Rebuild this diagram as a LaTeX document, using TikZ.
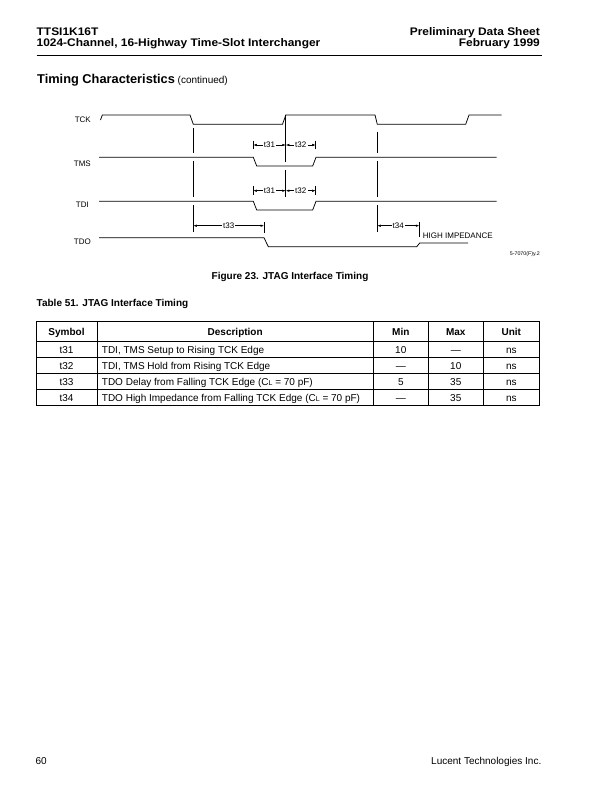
\documentclass[tikz,border=0pt]{standalone}
\usepackage{fontspec}
\usepackage{graphicx}
\setmainfont{Liberation Sans}
\usetikzlibrary{arrows.meta}
\newcommand{\hdrtext}[1]{\scalebox{1.085}[1]{#1}}
\begin{document}
\begin{tikzpicture}[x=1pt,y=-1pt,
  sig/.style={line width=0.75pt},
  vln/.style={line width=0.75pt},
  dimarrow/.style={line width=0.5pt,{Latex[length=3.5pt,width=2.4pt]}-{Latex[length=3.5pt,width=2.4pt]}},
  tickln/.style={line width=0.6pt},
  lbl/.style={inner sep=0pt,font=\fontsize{8}{9}\selectfont},
  dlbl/.style={fill=white,inner sep=1.2pt,font=\fontsize{8}{9}\selectfont},
  hdr/.style={inner sep=0pt,font=\fontsize{11}{12}\selectfont\bfseries},
  cell/.style={inner sep=0pt,font=\fontsize{10}{12}\selectfont},
  hcell/.style={inner sep=0pt,font=\fontsize{10}{12}\selectfont\bfseries},
  gridln/.style={line width=0.6pt}]
\useasboundingbox (0,0) rectangle (612,792);
\fill[white] (0,0) rectangle (612,792);

% ---------- page header ----------
\node[hdr,anchor=base west] (h1) at (36.5,35.8) {\hdrtext{TTSI1K16T}};
\node[hdr,anchor=base west] (h2) at (36.5,46.6) {\hdrtext{1024-Channel, 16-Highway Time-Slot Interchanger}};
\node[hdr,anchor=base east] (h3) at (540,35.8) {\hdrtext{Preliminary Data Sheet}};
\node[hdr,anchor=base east] (h4) at (540,46.6) {\hdrtext{February 1999}};
\draw[line width=0.8pt] (36.5,55) -- (542,55);

% ---------- section heading ----------
\node[inner sep=0pt,anchor=base west] (sec) at (37,83.3)
  {{\fontsize{12.8}{15}\selectfont\bfseries Timing Characteristics} {\fontsize{10}{12}\selectfont (continued)}};

% ---------- signal names ----------
\node[lbl,anchor=east] (ltck) at (91,119.3) {TCK};
\node[lbl,anchor=east] (ltms) at (91,164) {TMS};
\node[lbl,anchor=east] (ltdi) at (89,204.7) {TDI};
\node[lbl,anchor=east] (ltdo) at (91,242) {TDO};

% ---------- waveforms ----------
\draw[sig] (100.5,120) -- (102.3,115) -- (190,115) -- (193.3,124.3) -- (282.5,124.3)
  -- (285.8,115) -- (375,115) -- (377.3,124.3) -- (465.7,124.3) -- (469,115) -- (501.7,115);
\draw[sig] (99,157.3) -- (253.3,157.3) -- (256.7,166) -- (312.7,166) -- (316,157.3) -- (496.7,157.3);
\draw[sig] (99,201.3) -- (253.3,201.3) -- (256.7,210) -- (312.7,210) -- (316,201.3) -- (496.7,201.3);
\draw[sig] (99,237.7) -- (264,237.7) -- (268.3,246.7) -- (416.7,246.7) -- (419.7,243) -- (468,243);

% ---------- reference lines ----------
\draw[vln] (193.3,128) -- (193.3,153.3) (193.3,161.3) -- (193.3,197.3) (193.3,205.3) -- (193.3,232);
\draw[vln] (377.3,131.7) -- (377.3,153.3) (377.3,161.3) -- (377.3,197.3) (377.3,205.3) -- (377.3,231.7);
\draw[vln] (285.8,115) -- (285.8,162) (285.8,170) -- (285.8,196.7);

% ---------- t31 / t32 (TMS) ----------
\coordinate (a1) at (253.3,145);
\coordinate (a2) at (285.8,145);
\coordinate (a3) at (315.7,145);
\draw[tickln] (253.3,140.7) -- (253.3,149.3);
\draw[tickln] (315.7,140.7) -- (315.7,149.3);
\draw[dimarrow] (a1) -- node[dlbl] (t31a) {t31} (a2);
\draw[dimarrow] (a2) -- node[dlbl] (t32a) {t32} (a3);

% ---------- t31 / t32 (TDI) ----------
\coordinate (b1) at (253.3,190.7);
\coordinate (b2) at (285.8,190.7);
\coordinate (b3) at (315.7,190.7);
\draw[tickln] (253.3,186.4) -- (253.3,195);
\draw[tickln] (315.7,186.4) -- (315.7,195);
\draw[dimarrow] (b1) -- node[dlbl] (t31b) {t31} (b2);
\draw[dimarrow] (b2) -- node[dlbl] (t32b) {t32} (b3);

% ---------- t33 / t34 ----------
\coordinate (c1) at (193.3,225.7);
\coordinate (c2) at (264,225.7);
\draw[tickln] (264,222) -- (264,233.3);
\draw[dimarrow] (c1) -- node[dlbl] (t33) {t33} (c2);
\coordinate (d1) at (377.3,225.7);
\coordinate (d2) at (419.3,225.7);
\draw[tickln] (419.3,221.7) -- (419.3,236.7);
\draw[dimarrow] (d1) -- node[dlbl] (t34) {t34} (d2);

\node[lbl,anchor=west] (hiz) at (422.7,235.5) {HIGH IMPEDANCE};
\node[inner sep=0pt,anchor=east,font=\fontsize{5.3}{6}\selectfont] (fig) at (540,254) {5-7070(F)y.2};

% ---------- captions ----------
\node[inner sep=0pt,font=\fontsize{10}{12}\selectfont\bfseries] (cap) at (290,276.5) {Figure 23. JTAG Interface Timing};
\node[inner sep=0pt,anchor=base west,font=\fontsize{10}{12}\selectfont\bfseries] (tcap) at (36.5,306.5) {Table 51. JTAG Interface Timing};

% ---------- table ----------
\draw[gridln] (36,321.5) rectangle (539.3,405.5);
\foreach \yy in {341.5,357.5,373.5,389.5} \draw[gridln] (36,\yy) -- (539.3,\yy);
\foreach \xx in {97,373.3,428.3,483.3} \draw[gridln] (\xx,321.5) -- (\xx,405.5);

\node[hcell,anchor=base] (hs) at (66.5,335.1) {Symbol};
\node[hcell,anchor=base] (hd) at (235.2,335.1) {Description};
\node[hcell,anchor=base] (hmin) at (400.8,335.1) {Min};
\node[hcell,anchor=base] (hmax) at (455.8,335.1) {Max};
\node[hcell,anchor=base] (hu) at (511.3,335.1) {Unit};

\node[cell,anchor=base] (s1) at (66.5,353.1) {t31};
\node[cell,anchor=base west] (d1t) at (101.7,353.1) {TDI, TMS Setup to Rising TCK Edge};
\node[cell,anchor=base] (n1) at (400.8,353.1) {10};
\node[cell,anchor=base] (x1) at (455.8,353.1) {—};
\node[cell,anchor=base] (u1) at (511.3,353.1) {ns};

\node[cell,anchor=base] (s2) at (66.5,369.1) {t32};
\node[cell,anchor=base west] (d2t) at (101.7,369.1) {TDI, TMS Hold from Rising TCK Edge};
\node[cell,anchor=base] (n2) at (400.8,369.1) {—};
\node[cell,anchor=base] (x2) at (455.8,369.1) {10};
\node[cell,anchor=base] (u2) at (511.3,369.1) {ns};

\node[cell,anchor=base] (s3) at (66.5,385.1) {t33};
\node[cell,anchor=base west] (d3t) at (101.7,385.1) {TDO Delay from Falling TCK Edge (C\raisebox{-0.6pt}{\fontsize{7}{8}\selectfont L} = 70 pF)};
\node[cell,anchor=base] (n3) at (400.8,385.1) {5};
\node[cell,anchor=base] (x3) at (455.8,385.1) {35};
\node[cell,anchor=base] (u3) at (511.3,385.1) {ns};

\node[cell,anchor=base] (s4) at (66.5,401.1) {t34};
\node[cell,anchor=base west] (d4t) at (101.7,401.1) {TDO High Impedance from Falling TCK Edge (C\raisebox{-0.6pt}{\fontsize{7}{8}\selectfont L} = 70 pF)};
\node[cell,anchor=base] (n4) at (400.8,401.1) {—};
\node[cell,anchor=base] (x4) at (455.8,401.1) {35};
\node[cell,anchor=base] (u4) at (511.3,401.1) {ns};

% ---------- footer ----------
\node[inner sep=0pt,anchor=base west,font=\fontsize{10}{12}\selectfont] (pg) at (35.4,764) {60};
\node[inner sep=0pt,anchor=base east,font=\fontsize{10}{12}\selectfont] (co) at (541.5,764) {Lucent Technologies Inc.};
\end{tikzpicture}
\end{document}
